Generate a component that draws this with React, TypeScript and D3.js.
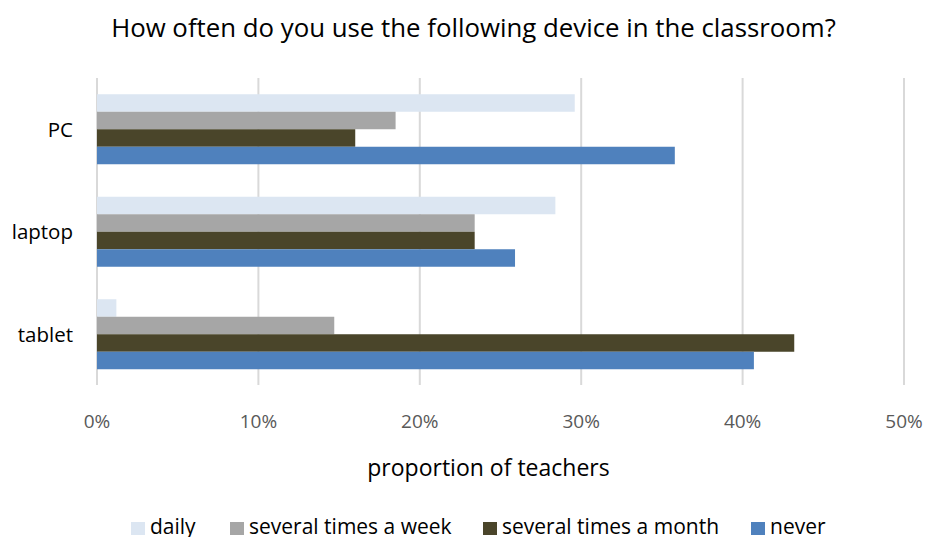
import React, { useEffect, useRef } from "react";
import * as d3 from "d3";

const categories = ["PC", "laptop", "tablet"];
const seriesNames = ["daily", "several times a week", "several times a month", "never"];
const seriesColors = ["#DCE6F2", "#A6A6A6", "#4A452A", "#4F81BD"];
const daily = [29.6, 28.4, 1.2];
const weekly = [18.5, 23.4, 14.7];
const monthly = [16.0, 23.4, 43.2];
const never = [35.8, 25.9, 40.7];
const xTicks = [0, 10, 20, 30, 40, 50];

const W = 928;
const H = 537;
const FONT = "'Open Sans', sans-serif";

export default function App() {
  const ref = useRef<SVGSVGElement>(null);
  useEffect(() => {
    const svg = d3.select(ref.current);
    svg.selectAll("*").remove();
    const values = [daily, weekly, monthly, never];
    const x = d3.scaleLinear().domain([0, 50]).range([97, 904]);
    const y = d3.scaleBand().domain(categories).range([78, 385.5]).paddingInner(0).paddingOuter(0);
    const groupH = 70;
    const inner = d3.scaleBand().domain(seriesNames).range([0, groupH]);

    svg.append("rect").attr("width", W).attr("height", H).attr("fill", "#fff");

    svg.append("text").attr("x", 473.5).attr("y", 37).attr("text-anchor", "middle")
      .attr("font-family", FONT).attr("font-size", 25.8).attr("fill", "#000")
      .text("How often do you use the following device in the classroom?");

    // grid
    svg.append("g").selectAll("line").data(xTicks).join("line")
      .attr("x1", d => x(d)).attr("x2", d => x(d))
      .attr("y1", 78).attr("y2", 385)
      .attr("stroke", "#D9D9D9").attr("stroke-width", 2);

    // bars
    categories.forEach((c, ci) => {
      const top = (y(c) as number) + (y.bandwidth() - groupH) / 2;
      seriesNames.forEach((s, si) => {
        svg.append("rect")
          .attr("x", x(0))
          .attr("y", top + (inner(s) as number))
          .attr("width", x(values[si][ci]) - x(0))
          .attr("height", inner.bandwidth())
          .attr("fill", seriesColors[si]);
      });
      svg.append("text").attr("x", 73).attr("y", (y(c) as number) + y.bandwidth() / 2 + 7.5)
        .attr("text-anchor", "end")
        .attr("font-family", FONT).attr("font-size", 20.5).attr("fill", "#000").text(c);
    });

    // tick labels
    svg.append("g").selectAll("text").data(xTicks).join("text")
      .attr("x", d => x(d)).attr("y", 428).attr("text-anchor", "middle")
      .attr("font-family", FONT).attr("font-size", 19).attr("fill", "#595959")
      .text(d => d + "%");

    svg.append("text").attr("x", 488.5).attr("y", 476).attr("text-anchor", "middle")
      .attr("font-family", FONT).attr("font-size", 23).attr("fill", "#000")
      .text("proportion of teachers");

    // legend
    const legX = [131, 230, 483, 751];
    seriesNames.forEach((s, i) => {
      svg.append("rect").attr("x", legX[i]).attr("y", 522).attr("width", 14).attr("height", 13)
        .attr("fill", seriesColors[i]);
      svg.append("text").attr("x", legX[i] + 19).attr("y", 534)
        .attr("font-family", FONT).attr("font-size", 21).attr("fill", "#000").text(s);
    });
  }, []);
  return <svg ref={ref} width={W} height={H} style={{ position: "absolute", left: 0, top: 0 }} />;
}
